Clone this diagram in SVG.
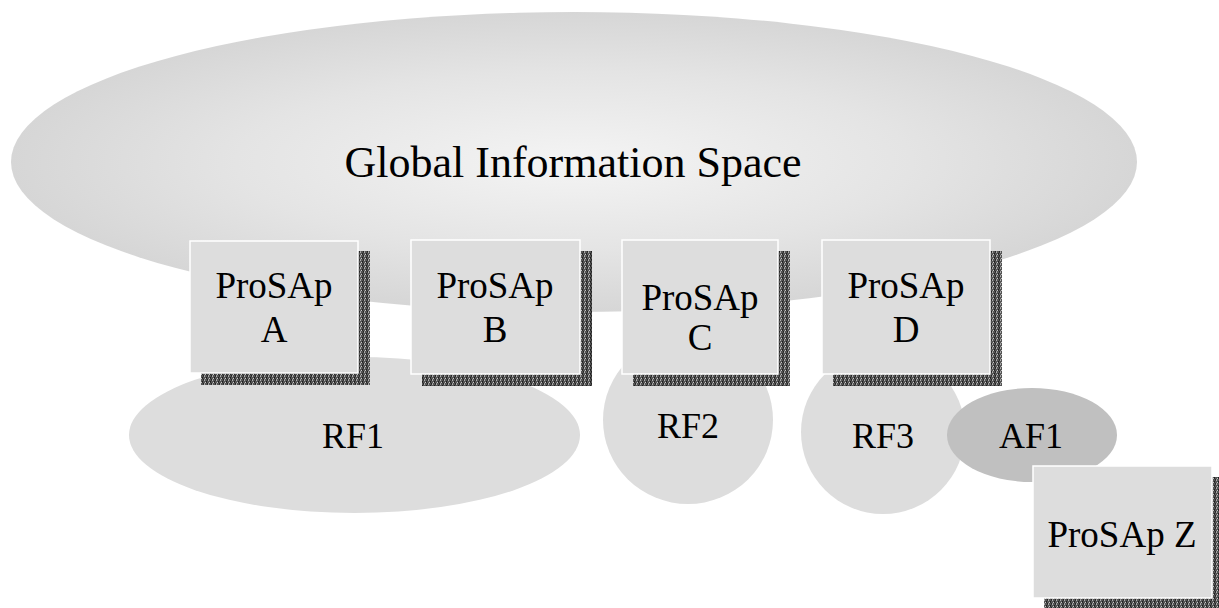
<svg xmlns="http://www.w3.org/2000/svg" width="1219" height="608" viewBox="0 0 1219 608">
<defs>
<radialGradient id="gis" cx="0.5" cy="0.5" r="0.5">
<stop offset="0" stop-color="#f4f4f4"/>
<stop offset="0.6" stop-color="#e4e4e4"/>
<stop offset="1" stop-color="#d6d6d6"/>
</radialGradient>
<pattern id="dither" width="4" height="4" patternUnits="userSpaceOnUse">
<rect width="4" height="4" fill="#555555"/>
<rect x="0" y="0" width="1" height="1" fill="#b0b0b0"/>
<rect x="2" y="1" width="1" height="1" fill="#1e1e1e"/>
<rect x="1" y="2" width="1" height="1" fill="#c8c8c8"/>
<rect x="3" y="3" width="1" height="1" fill="#222222"/>
<rect x="3" y="0" width="1" height="1" fill="#333"/>
<rect x="0" y="3" width="1" height="1" fill="#999"/>
<rect x="2" y="2" width="1" height="1" fill="#2a2a2a"/>
</pattern>
</defs>
<style>
.t{font-family:"Liberation Serif","Times New Roman",serif;fill:#000;text-anchor:middle}
.box{fill:#dddddd;stroke:#ffffff;stroke-width:1.5}
.sh{fill:url(#dither)}
.rf{fill:#dddddd}
.af{fill:#c0c0c0}
</style>
<rect width="1219" height="608" fill="#ffffff"/>
<g id="gis-node">
<ellipse cx="574" cy="162" rx="563" ry="150" fill="url(#gis)"/>
<text class="t" x="573" y="177" font-size="44">Global Information Space</text>
</g>
<g id="rf1">
<ellipse class="rf" cx="354.5" cy="435" rx="225.5" ry="78"/>
<text class="t" x="353" y="448" font-size="36">RF1</text>
</g>
<g id="rf2">
<ellipse class="rf" cx="688" cy="420" rx="85" ry="84"/>
<text class="t" x="688" y="438" font-size="36">RF2</text>
</g>
<g id="rf3">
<circle class="rf" cx="883" cy="432" r="82"/>
<text class="t" x="883" y="448" font-size="36">RF3</text>
</g>
<g id="af1">
<ellipse class="af" cx="1032" cy="435" rx="85" ry="47"/>
<text class="t" x="1031" y="448" font-size="36">AF1</text>
</g>
<g id="prosap-a">
<rect class="sh" x="201" y="251" width="169" height="134"/>
<rect class="box" x="190" y="241" width="168" height="132"/>
<text class="t" x="274" y="298" font-size="37">ProSAp</text>
<text class="t" x="274" y="342" font-size="37">A</text>
</g>
<g id="prosap-b">
<rect class="sh" x="422" y="251" width="170" height="135"/>
<rect class="box" x="411" y="240" width="169" height="134"/>
<text class="t" x="495" y="298" font-size="37">ProSAp</text>
<text class="t" x="495" y="342" font-size="37">B</text>
</g>
<g id="prosap-c">
<rect class="sh" x="633" y="251" width="157" height="135"/>
<rect class="box" x="622" y="240" width="156" height="134"/>
<text class="t" x="700" y="310" font-size="37">ProSAp</text>
<text class="t" x="700" y="350" font-size="37">C</text>
</g>
<g id="prosap-d">
<rect class="sh" x="833" y="251" width="169" height="135"/>
<rect class="box" x="822" y="240" width="168" height="134"/>
<text class="t" x="906" y="298" font-size="37">ProSAp</text>
<text class="t" x="906" y="342" font-size="37">D</text>
</g>
<g id="prosap-z">
<rect class="sh" x="1044" y="477" width="180" height="135"/>
<rect class="box" x="1033" y="466" width="179" height="132"/>
<text class="t" x="1122" y="547" font-size="37">ProSAp Z</text>
</g>
<g id="connectors"/>
</svg>
